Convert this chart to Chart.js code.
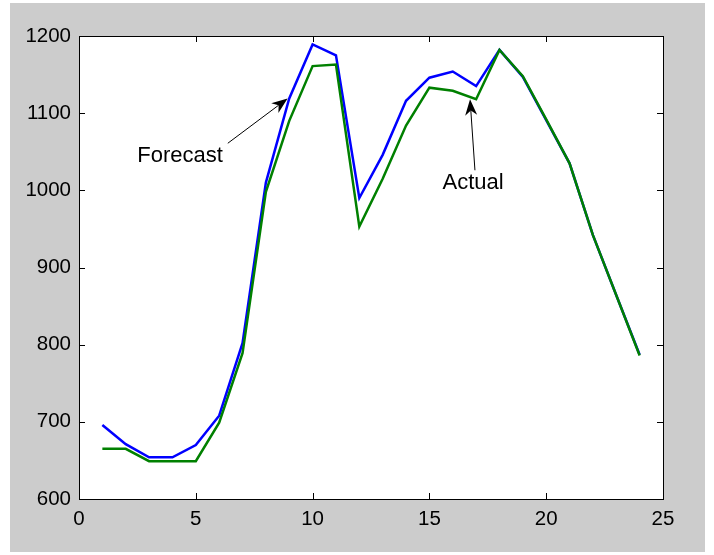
<!DOCTYPE html>
<html>
<head>
<meta charset="utf-8">
<script src="https://cdn.jsdelivr.net/npm/chart.js@4/dist/chart.umd.min.js"></script>
<style>
  html, body { margin: 0; padding: 0; background: #ffffff; }
  #fig { position: absolute; left: 10px; top: 3px; width: 695px; height: 549px; background: #cccccc; }
  #fig canvas { display: block; }
</style>
</head>
<body>
<div id="fig"><canvas id="c" width="695" height="549"></canvas></div>
<script>
"use strict";

// Horas del día y las dos series (pronóstico vs. real)
const hours = [1, 2, 3, 4, 5, 6, 7, 8, 9, 10, 11, 12, 13, 14, 15, 16, 17, 18, 19, 20, 21, 22, 23, 24];
const forecast = [696, 671, 654, 654, 670, 708, 802, 1010, 1119, 1189, 1175, 990,
  1046, 1116, 1146, 1154, 1135, 1182, 1147, 1091, 1035, 942, 864, 787];
const actual = [665, 665, 649, 649, 649, 699, 789, 998, 1090, 1161, 1163, 953,
  1015, 1084, 1133, 1129, 1118, 1182, 1148, 1092, 1035, 942, 864, 786];

const xTicks = [0, 5, 10, 15, 20, 25];
const yTicks = [600, 700, 800, 900, 1000, 1100, 1200];

// Anotaciones: texto y flecha, en coordenadas de datos
const notes = [
  { text: "Forecast", tx: 6.16, ty: 1044, align: "right", from: [6.37, 1061], to: [8.93, 1119] },
  { text: "Actual", tx: 16.87, ty: 1009, align: "center", from: [16.95, 1026], to: [16.74, 1118] },
];

const FONT = '"Liberation Sans", Arial, Helvetica, sans-serif';

const toPts = (ys) => ys.map((y, i) => ({ x: hours[i], y }));

// Fondo blanco del área de ejes (la figura queda gris)
const axesFill = {
  id: "axesFill",
  beforeDraw(chart) {
    const { ctx, chartArea: a } = chart;
    ctx.save();
    ctx.fillStyle = "#ffffff";
    ctx.fillRect(a.left, a.top, a.right - a.left, a.bottom - a.top);
    ctx.restore();
  },
};

// Caja de ejes con marcas hacia dentro, estilo MATLAB
const boxAxes = {
  id: "boxAxes",
  afterDatasetsDraw(chart) {
    const { ctx, chartArea: a, scales } = chart;
    const t = 6;
    ctx.save();
    ctx.strokeStyle = "#000";
    ctx.lineWidth = 1;
    ctx.beginPath();
    for (const v of xTicks) {
      const px = Math.round(scales.x.getPixelForValue(v)) + 0.5;
      ctx.moveTo(px, a.bottom); ctx.lineTo(px, a.bottom - t);
      ctx.moveTo(px, a.top); ctx.lineTo(px, a.top + t);
    }
    for (const v of yTicks) {
      const py = Math.round(scales.y.getPixelForValue(v)) + 0.5;
      ctx.moveTo(a.left, py); ctx.lineTo(a.left + t, py);
      ctx.moveTo(a.right, py); ctx.lineTo(a.right - t, py);
    }
    ctx.stroke();
    ctx.strokeRect(Math.round(a.left) + 0.5, Math.round(a.top) + 0.5,
      Math.round(a.right - a.left), Math.round(a.bottom - a.top));
    ctx.restore();
  },
};

const annotations = {
  id: "annotations",
  afterDraw(chart) {
    const { ctx, scales } = chart;
    const px = (v) => scales.x.getPixelForValue(v);
    const py = (v) => scales.y.getPixelForValue(v);
    ctx.save();
    ctx.fillStyle = "#000";
    ctx.strokeStyle = "#000";
    ctx.font = "22px " + FONT;
    ctx.textBaseline = "middle";
    for (const n of notes) {
      ctx.textAlign = n.align;
      ctx.fillText(n.text, px(n.tx), py(n.ty));
      const x0 = px(n.from[0]), y0 = py(n.from[1]);
      const x1 = px(n.to[0]), y1 = py(n.to[1]);
      const ang = Math.atan2(y1 - y0, x1 - x0);
      const L = 16, W = 6;
      ctx.lineWidth = 1;
      ctx.beginPath();
      ctx.moveTo(x0, y0);
      ctx.lineTo(x1 - Math.cos(ang) * L * 0.7, y1 - Math.sin(ang) * L * 0.7);
      ctx.stroke();
      // punta con muesca
      ctx.translate(x1, y1);
      ctx.rotate(ang);
      ctx.beginPath();
      ctx.moveTo(0, 0);
      ctx.lineTo(-L, -W);
      ctx.lineTo(-L * 0.7, 0);
      ctx.lineTo(-L, W);
      ctx.closePath();
      ctx.fill();
      ctx.setTransform(1, 0, 0, 1, 0, 0);
    }
    ctx.restore();
  },
};

new Chart(document.getElementById("c"), {
  type: "line",
  data: {
    datasets: [
      // el real va primero: Chart.js lo pinta encima
      { label: "Actual", data: toPts(actual), borderColor: "#008000", borderWidth: 2.5 },
      { label: "Forecast", data: toPts(forecast), borderColor: "#0000ff", borderWidth: 2.5 },
    ],
  },
  options: {
    responsive: false,
    animation: false,
    events: [],
    elements: { point: { radius: 0 }, line: { tension: 0, fill: false } },
    layout: { padding: { top: 33, right: 42, left: 0, bottom: 0 } },
    plugins: { legend: { display: false }, tooltip: { enabled: false } },
    scales: {
      x: {
        type: "linear",
        min: 0, max: 25,
        grid: { display: false, drawTicks: false },
        border: { display: false },
        afterFit: (s) => { s.height = 53; },
        afterBuildTicks: (s) => { s.ticks = xTicks.map((v) => ({ value: v })); },
        ticks: { color: "#000", padding: 8, maxRotation: 0, font: { family: FONT, size: 20.5 },
          callback: (v) => String(v) },
      },
      y: {
        min: 600, max: 1200,
        grid: { display: false, drawTicks: false },
        border: { display: false },
        afterFit: (s) => { s.width = 69; },
        afterBuildTicks: (s) => { s.ticks = yTicks.map((v) => ({ value: v })); },
        ticks: { color: "#000", padding: 8, font: { family: FONT, size: 20.5 },
          callback: (v) => String(v) },
      },
    },
  },
  plugins: [axesFill, boxAxes, annotations],
});
</script>
</body>
</html>
